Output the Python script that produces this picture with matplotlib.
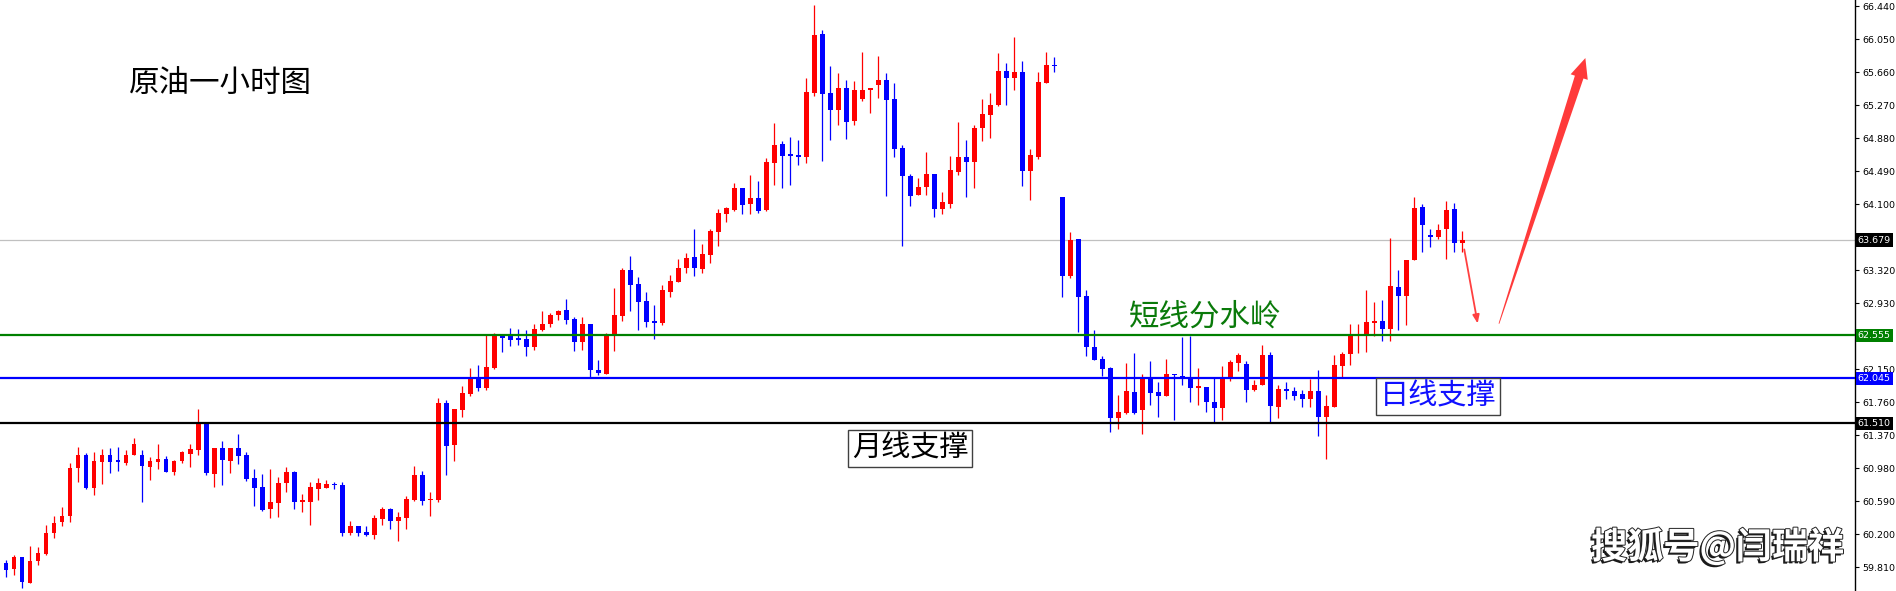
import numpy as np
import matplotlib
matplotlib.use('Agg')
import matplotlib.pyplot as plt
import matplotlib.patheffects as pe
from matplotlib.patches import Polygon

plt.rcParams['font.family'] = ['Noto Sans CJK SC', 'DejaVu Sans']

# ---- data: 1h crude oil candles ----
opens = [59.80, 59.86, 59.79, 59.93, 59.63, 59.88, 59.97, 60.21, 60.34, 60.42,
         60.98, 61.14, 60.75, 61.06, 61.14, 61.07, 61.04, 61.14, 61.14, 61.00,
         61.06, 61.09, 60.94, 61.07, 61.15, 61.20, 61.52, 60.91, 61.22, 61.07,
         61.22, 61.14, 60.87, 60.76, 60.50, 60.57, 60.81, 60.94, 60.58, 60.58,
         60.74, 60.75, 60.79, 60.78, 60.22, 60.30, 60.23, 60.19, 60.38, 60.50,
         60.36, 60.39, 60.61, 60.90, 60.60, 60.61, 61.75, 61.25, 61.67, 61.86,
         62.05, 61.93, 62.17, 62.54, 62.56, 62.51, 62.51, 62.42, 62.62, 62.69,
         62.79, 62.85, 62.75, 62.47, 62.69, 62.14, 62.10, 62.56, 62.78, 63.33,
         63.16, 62.96, 62.72, 62.70, 63.06, 63.18, 63.35, 63.48, 63.34, 63.50,
         63.77, 63.99, 64.03, 64.29, 64.10, 64.18, 64.03, 64.59, 64.81, 64.68,
         64.675, 64.66, 65.42, 66.11, 65.42, 65.22, 65.48, 65.09, 65.35, 65.45,
         65.51, 65.57, 65.34, 64.77, 64.44, 64.21, 64.30, 64.46, 64.04, 64.11,
         64.48, 64.66, 64.60, 65.00, 65.16, 65.27, 65.68, 65.59, 65.66, 64.50,
         64.66, 65.54, 65.75, 64.19, 63.25, 63.69, 63.02, 62.42, 62.27, 62.17,
         61.58, 61.63, 61.88, 61.67, 62.04, 61.88, 61.84, 62.10, 62.07, 62.06,
         61.93, 61.94, 61.77, 61.69, 62.05, 62.22, 62.21, 61.91, 61.96, 62.32,
         61.71, 61.92, 61.89, 61.86, 61.80, 61.89, 61.59, 61.71, 62.19, 62.33,
         62.54, 62.56, 62.70, 62.72, 62.63, 63.12, 63.02, 63.44, 64.07, 63.73,
         63.72, 63.81, 64.04, 63.64]
highs = [59.87, 59.90, 59.96, 59.93, 60.06, 60.05, 60.31, 60.42, 60.52, 61.04,
         61.23, 61.16, 61.17, 61.21, 61.22, 61.23, 61.20, 61.34, 61.20, 61.11,
         61.27, 61.13, 61.08, 61.19, 61.27, 61.68, 61.52, 61.22, 61.30, 61.22,
         61.39, 61.17, 60.97, 60.91, 60.97, 60.88, 61.00, 60.95, 60.68, 60.82,
         60.87, 60.84, 60.82, 60.82, 60.36, 60.30, 60.30, 60.43, 60.52, 60.51,
         60.46, 60.65, 61.01, 60.95, 60.70, 61.81, 61.79, 61.68, 61.95, 62.17,
         62.20, 62.56, 62.58, 62.54, 62.64, 62.63, 62.62, 62.69, 62.84, 62.82,
         62.85, 62.98, 62.77, 62.77, 62.69, 62.26, 62.58, 63.11, 63.35, 63.49,
         63.24, 63.06, 62.91, 63.15, 63.27, 63.46, 63.53, 63.81, 63.63, 63.81,
         64.05, 64.07, 64.35, 64.29, 64.45, 64.38, 64.65, 65.06, 64.85, 64.90,
         64.86, 65.59, 66.46, 66.16, 65.74, 65.65, 65.57, 65.56, 65.90, 65.48,
         65.85, 65.65, 65.54, 64.80, 64.46, 64.41, 64.72, 64.46, 64.25, 64.67,
         65.07, 64.86, 65.04, 65.34, 65.42, 65.89, 65.77, 66.08, 65.80, 64.75,
         65.67, 65.90, 65.84, 64.19, 63.77, 63.69, 63.09, 62.61, 62.31, 62.18,
         61.85, 62.23, 62.34, 62.10, 62.25, 62.00, 62.27, 62.10, 62.53, 62.55,
         62.17, 61.94, 62.06, 62.19, 62.26, 62.34, 62.25, 62.02, 62.44, 62.36,
         61.97, 62.00, 61.94, 61.91, 62.04, 62.14, 61.85, 62.32, 62.36, 62.69,
         62.69, 63.09, 62.95, 62.97, 63.70, 63.33, 63.44, 64.19, 64.11, 63.81,
         63.87, 64.14, 64.12, 63.78]
lows = [59.79, 59.70, 59.72, 59.57, 59.63, 59.84, 59.95, 60.16, 60.30, 60.34,
        60.82, 60.74, 60.67, 60.80, 60.93, 60.95, 61.02, 61.14, 60.58, 60.84,
        60.97, 60.94, 60.90, 61.04, 61.00, 61.14, 60.90, 60.76, 60.78, 60.93,
        61.03, 60.83, 60.54, 60.48, 60.39, 60.41, 60.70, 60.50, 60.46, 60.31,
        60.61, 60.75, 60.74, 60.18, 60.19, 60.18, 60.18, 60.15, 60.31, 60.26,
        60.12, 60.26, 60.59, 60.55, 60.42, 60.58, 60.90, 61.07, 61.59, 61.84,
        61.90, 61.91, 62.16, 62.35, 62.43, 62.44, 62.31, 62.38, 62.60, 62.65,
        62.73, 62.69, 62.37, 62.38, 62.06, 62.08, 62.09, 62.37, 62.72, 62.84,
        62.62, 62.65, 62.51, 62.67, 63.01, 63.18, 63.29, 63.25, 63.29, 63.41,
        63.61, 63.89, 64.02, 63.99, 63.99, 64.00, 64.02, 64.33, 64.29, 64.33,
        64.57, 64.59, 65.38, 64.61, 64.86, 65.04, 64.87, 65.04, 65.32, 65.18,
        65.36, 64.20, 64.66, 63.61, 64.08, 64.21, 64.21, 63.95, 63.99, 64.06,
        64.45, 64.19, 64.29, 64.85, 64.89, 65.26, 65.27, 65.45, 64.32, 64.15,
        64.64, 65.53, 65.66, 63.00, 63.23, 62.59, 62.31, 62.26, 62.07, 61.41,
        61.44, 61.62, 61.62, 61.39, 61.73, 61.59, 61.84, 61.55, 61.97, 61.77,
        61.73, 61.64, 61.53, 61.55, 62.01, 62.13, 61.77, 61.89, 61.96, 61.53,
        61.58, 61.80, 61.79, 61.71, 61.71, 61.36, 61.09, 61.71, 62.06, 62.20,
        62.34, 62.36, 62.54, 62.49, 62.49, 62.62, 62.68, 63.44, 63.54, 63.60,
        63.69, 63.45, 63.54, 63.54]
closes = [59.86, 59.78, 59.93, 59.64, 59.89, 59.98, 60.22, 60.33, 60.42, 60.98,
          61.14, 60.75, 61.07, 61.14, 61.06, 61.06, 61.14, 61.27, 61.01, 61.07,
          61.09, 60.94, 61.07, 61.17, 61.21, 61.52, 60.93, 61.22, 61.08, 61.22,
          61.13, 60.85, 60.75, 60.49, 60.58, 60.81, 60.94, 60.58, 60.59, 60.76,
          60.81, 60.80, 60.78, 60.22, 60.30, 60.22, 60.19, 60.39, 60.50, 60.36,
          60.41, 60.62, 60.90, 60.59, 60.62, 61.75, 61.24, 61.68, 61.87, 62.05,
          61.93, 62.18, 62.56, 62.52, 62.50, 62.50, 62.42, 62.63, 62.69, 62.79,
          62.84, 62.73, 62.47, 62.69, 62.14, 62.11, 62.56, 62.79, 63.33, 63.15,
          62.95, 62.71, 62.70, 63.09, 63.19, 63.35, 63.47, 63.35, 63.51, 63.79,
          64.00, 64.06, 64.29, 64.09, 64.18, 64.02, 64.60, 64.80, 64.67, 64.67,
          64.665, 65.43, 66.10, 65.41, 65.22, 65.48, 65.07, 65.45, 65.45, 65.48,
          65.57, 65.33, 64.76, 64.43, 64.20, 64.31, 64.46, 64.04, 64.13, 64.51,
          64.66, 64.60, 65.00, 65.17, 65.27, 65.68, 65.59, 65.66, 64.50, 64.68,
          65.55, 65.75, 65.73, 63.25, 63.68, 63.00, 62.42, 62.26, 62.16, 61.58,
          61.65, 61.89, 61.63, 62.04, 61.87, 61.84, 62.10, 62.08, 62.04, 61.93,
          61.94, 61.77, 61.69, 62.05, 62.24, 62.32, 61.91, 61.97, 62.32, 61.72,
          61.92, 61.89, 61.84, 61.80, 61.89, 61.59, 61.72, 62.20, 62.33, 62.55,
          62.55, 62.71, 62.72, 62.63, 63.13, 63.02, 63.44, 64.06, 63.86, 63.72,
          63.80, 64.03, 63.64, 63.679]

# horizontal levels
last_price = 63.679
level_short = 62.555   # 短线分水岭
level_daily = 62.045   # 日线支撑
level_month = 61.510   # 月线支撑

tick_prices = [59.810, 60.200, 60.590, 60.980, 61.370, 61.760, 62.150, 62.540,
               62.930, 63.320, 63.710, 64.100, 64.490, 64.880, 65.270, 65.660,
               66.050, 66.440]
hidden_ticks = [62.540, 63.710]   # covered by the price tags in the original

# ---- figure ----
fig = plt.figure(figsize=(18.96, 5.91), dpi=100)
ax = fig.add_axes([0, 0, 1855 / 1896, 1])

o = np.array(opens); h = np.array(highs); l = np.array(lows); c = np.array(closes)
x = np.arange(len(o)) - 1
up = c >= o
cols = np.where(up, '#ff0000', '#0000ff')

ax.vlines(x, l, h, colors=cols, linewidth=0.9, zorder=3)
body = np.maximum(np.abs(c - o), 0.02)
ax.bar(x, body, bottom=np.minimum(o, c), width=0.62, color=cols,
       linewidth=0, zorder=4)

# level lines
ax.axhline(last_price, color='#c0c0c0', lw=0.9, zorder=2)
ax.axhline(level_short, color='#008000', lw=1.6, zorder=5)
ax.axhline(level_daily, color='#0000ff', lw=1.6, zorder=5)
ax.axhline(level_month, color='#000000', lw=1.6, zorder=5)

ax.set_xlim(-0.75, 231.1)
ax.set_ylim(59.53, 66.516)

for s in ['left', 'top', 'bottom']:
    ax.spines[s].set_visible(False)
ax.spines['right'].set_linewidth(1.0)
ax.set_xticks([])
ax.yaxis.tick_right()
ax.set_yticks(tick_prices)
ax.set_yticklabels(['' if v in hidden_ticks else f'{v:.3f}' for v in tick_prices])
ax.tick_params(axis='y', direction='out', length=3, width=0.8, pad=2,
               labelsize=6.8, labelfontfamily='DejaVu Sans')

# price tags on the axis
ytr = ax.get_yaxis_transform()
for val, bg in [(last_price, 'black'), (level_short, '#008000'),
                (level_daily, '#0000ff'), (level_month, 'black')]:
    ax.text(1.0015, val, f'{val:.3f}', transform=ytr, ha='left', va='center',
            fontsize=6.8, family='DejaVu Sans', color='white', zorder=10,
            clip_on=False,
            bbox=dict(boxstyle='square,pad=0.22', facecolor=bg, edgecolor='none'))

# texts
ax.text(0.1186, 0.858, '原油一小时图', transform=ax.transAxes, ha='center',
        va='center', fontsize=22, color='black')
ax.text(149.9, 62.77, '短线分水岭', ha='center', va='center', fontsize=22,
        color='#0a7a0a', zorder=6)
ax.text(179.0, 61.835, '日线支撑', ha='center', va='center', fontsize=21,
        color='#1010ff', zorder=6,
        bbox=dict(boxstyle='square,pad=0.12', facecolor='white',
                  edgecolor='#404040', linewidth=1.0))
ax.text(113.0, 61.21, '月线支撑', ha='center', va='center', fontsize=21,
        color='black', zorder=6,
        bbox=dict(boxstyle='square,pad=0.12', facecolor='white',
                  edgecolor='#404040', linewidth=1.0))
ax.text(0.926, 0.074, '搜狐号@闫瑞祥', transform=ax.transAxes, ha='center',
        va='center', fontsize=26, fontweight='bold', color='white', zorder=7,
        path_effects=[pe.withSimplePatchShadow(offset=(-1.5, -1.5),
                                               shadow_rgbFace='black', alpha=0.9),
                      pe.withStroke(linewidth=1.4, foreground='#222222')])

# small red arrow (pull-back)
ax.annotate('', xy=(184.0, 62.66), xytext=(182.2, 63.60),
            arrowprops=dict(arrowstyle='-|>,head_length=0.5,head_width=0.2',
                            color='#ff4040', lw=1.3), zorder=8)

# big tapered red arrow (rebound)
tail = ax.transData.transform((186.6, 62.69))
tip = ax.transData.transform((197.4, 65.83))
u = (tip - tail) / np.hypot(*(tip - tail))
n = np.array([-u[1], u[0]])
base = tip - u * 20
pts = [tail + n * 0.4, base + n * 4.5, base + n * 9, tip,
       base - n * 9, base - n * 4.5, tail - n * 0.4]
ax.add_patch(Polygon(pts, closed=True, transform=None, facecolor='#ff3a3a',
                     edgecolor='none', zorder=8))

fig.savefig('out.png', dpi=100, facecolor='white')
